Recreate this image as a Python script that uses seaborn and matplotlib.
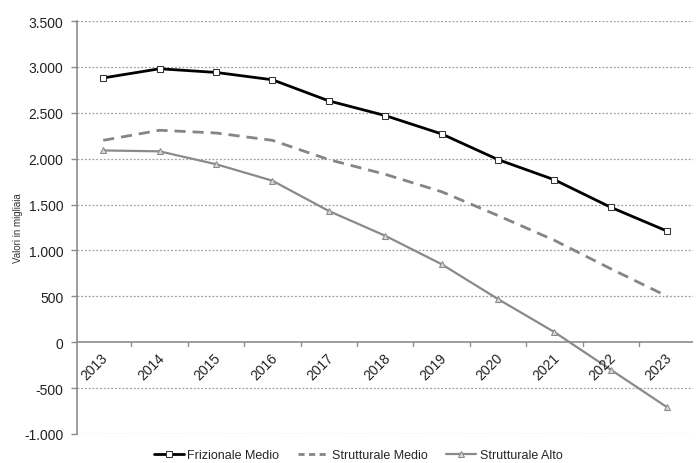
import numpy as np
import pandas as pd
import matplotlib
matplotlib.use("Agg")
import matplotlib.pyplot as plt
import seaborn as sns
from matplotlib.ticker import FuncFormatter

# Dati (valori in migliaia)
anni = ["2013", "2014", "2015", "2016", "2017", "2018", "2019", "2020", "2021", "2022", "2023"]
frizionale_medio = [2880, 2980, 2940, 2860, 2630, 2470, 2270, 1990, 1770, 1470, 1210]
strutturale_medio = [2200, 2310, 2280, 2200, 1990, 1830, 1640, 1380, 1110, 800, 500]
strutturale_alto = [2090, 2080, 1940, 1760, 1430, 1160, 850, 470, 110, -300, -710]

sns.set_theme(style="white")
plt.rcParams['font.family'] = ['Liberation Sans', 'DejaVu Sans']

fig = plt.figure(figsize=(6.96, 4.64), dpi=100)
ax = fig.add_axes([0.111, 0.0625, 0.885, 0.89])

pos = np.arange(len(anni))
df = pd.DataFrame({"pos": pos, "fm": frizionale_medio, "sm": strutturale_medio, "sa": strutturale_alto})

# griglia tratteggiata
for v in range(-1000, 3501, 500):
    if v != 0:
        ax.axhline(v, color="#a0a0a0", lw=0.9, ls=(0, (1.5, 1.5)), zorder=0)
ax.axhline(0, color="#8c8c8c", lw=1.2, zorder=1)

sns.lineplot(data=df, x="pos", y="sa", ax=ax, color="#8a8a8a", lw=1.6, marker="^",
             markersize=4.5, markerfacecolor="#d8d8d8", markeredgecolor="#8a8a8a",
             label="Strutturale Alto", zorder=3)
sns.lineplot(data=df, x="pos", y="sm", ax=ax, color="#858585", lw=2.0, dashes=(4, 2.5),
             label="Strutturale Medio", zorder=3)
sns.lineplot(data=df, x="pos", y="fm", ax=ax, color="black", lw=2.0, marker="s",
             markersize=5, markerfacecolor="white", markeredgecolor="#333333",
             label="Frizionale Medio", zorder=4)

ax.set_xlim(-0.46, 10.46)
ax.set_ylim(-1000, 3500)
ax.set_yticks(range(-1000, 3501, 500))
ax.yaxis.set_major_formatter(FuncFormatter(lambda v, p: f"{int(v):,}".replace(",", ".")))
ax.tick_params(axis="y", labelsize=10, colors="#8c8c8c", labelcolor="#222222",
               left=True, length=4, width=1, direction="out", pad=6)

# etichette anni sotto la linea dello zero
ax.set_xticks(pos[:-1] + 0.5)
ax.set_xticklabels([])
ax.tick_params(axis="x", bottom=False)
for i, a in enumerate(anni):
    ax.annotate(a, xy=(i, 0), xytext=(-6, -17), textcoords="offset points",
                rotation=45, ha="center", va="center", fontsize=10, color="#222222")
    if i < len(anni) - 1:
        ax.plot([i + 0.5, i + 0.5], [0, -45], color="#8c8c8c", lw=1, zorder=1)

ax.set_xlabel("")
ax.set_ylabel("Valori in migliaia", fontsize=7, color="#333333", labelpad=1)

for s in ["top", "right", "bottom"]:
    ax.spines[s].set_visible(False)
ax.spines["left"].set_color("#8c8c8c")
ax.spines["left"].set_linewidth(1.2)

h, l = ax.get_legend_handles_labels()
order = [2, 1, 0]
leg = ax.legend([h[i] for i in order], [l[i] for i in order], loc="upper center",
                bbox_to_anchor=(0.456, -0.01), ncol=3, frameon=False, fontsize=9,
                handlelength=2.4, columnspacing=1.5, handletextpad=0.3)
leg.get_lines()[1].set_dashes((2.2, 1.6))

fig.savefig("out.png", dpi=100)
